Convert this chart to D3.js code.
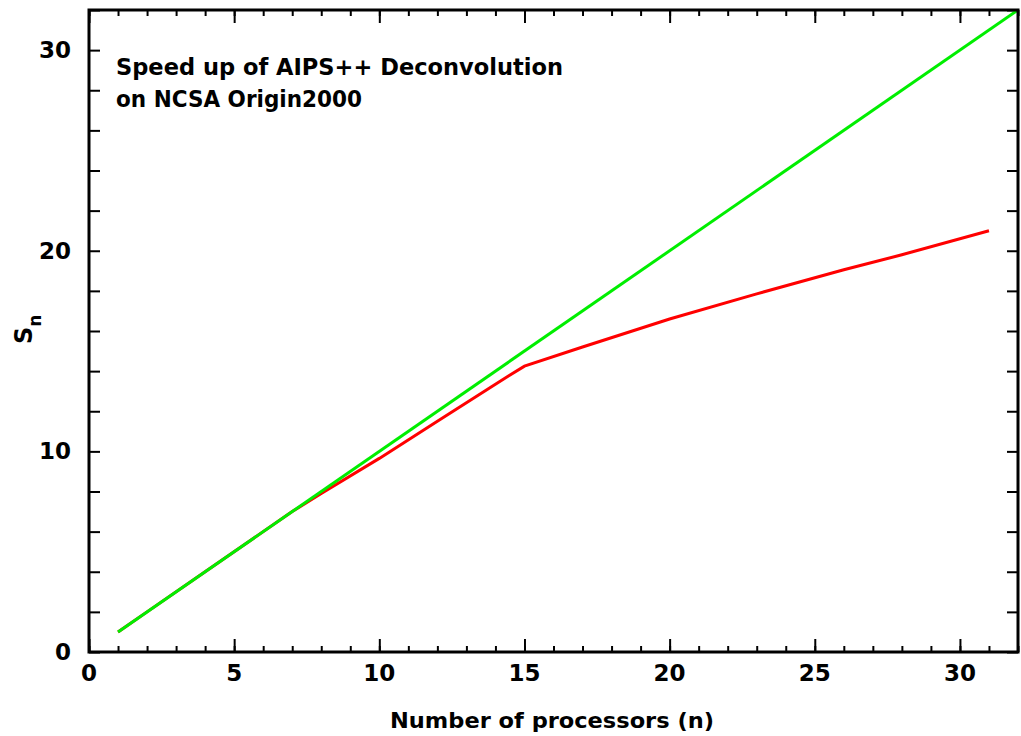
<!DOCTYPE html>
<html>
  <head>
    <meta charset="UTF-8" />
    <title>Speed up of AIPS++ Deconvolution</title>
    <script src="https://d3js.org/d3.v7.min.js"></script>
    <style>
      body {
        margin: 0;
        background: #fff;
      }
      svg text {
        font-family: "DejaVu Sans", sans-serif;
        font-weight: bold;
        fill: #000;
      }
    </style>
  </head>
  <body>
    <svg id="chart" width="1021" height="736"></svg>

    <script>
      // ideal speed-up (S_n = n)
      const idealN = [1, 32];
      const idealS = [1, 32];

      const measN = [1, 2, 4, 7, 8, 10, 12, 14, 15, 17, 20, 23, 26, 28, 31];
      const measS = [1, 2, 4, 7, 7.9, 9.65, 11.5, 13.35, 14.25, 15.2, 16.6, 17.85, 19.05, 19.8, 21.0];

      const xMajor = [0, 5, 10, 15, 20, 25, 30];
      const xMinor = d3.range(0, 33, 1);
      const yMajor = [0, 10, 20, 30];
      const yMinor = d3.range(0, 33, 2);

      const titleLines = ["Speed up of AIPS++ Deconvolution", "on NCSA Origin2000"];

      const svg = d3.select("#chart");
      const mLeft = 89, mRight = 1018, mTop = 10, mBottom = 652;

      const x = d3.scaleLinear().domain([0, 32]).range([mLeft, mRight]);
      const y = d3.scaleLinear().domain([0, 32]).range([mBottom, mTop]);

      // tick marks (all pointing inward), on all four sides
      function ticks(axisFn, scale, vals, size, transform) {
        const g = svg.append("g").attr("transform", transform)
          .call(axisFn(scale).tickValues(vals).tickSize(size).tickFormat(""));
        g.select(".domain").remove();
        g.selectAll(".tick line").attr("stroke", "#000").attr("stroke-width", 2);
        return g;
      }
      ticks(d3.axisBottom, x, xMinor, -6, `translate(0,${mBottom})`);
      ticks(d3.axisBottom, x, xMajor, -13, `translate(0,${mBottom})`);
      ticks(d3.axisTop, x, xMinor, -6, `translate(0,${mTop})`);
      ticks(d3.axisTop, x, xMajor, -13, `translate(0,${mTop})`);
      ticks(d3.axisLeft, y, yMinor, -11, `translate(${mLeft},0)`);
      ticks(d3.axisRight, y, yMinor, -11, `translate(${mRight},0)`);

      // tick labels
      svg.append("g").selectAll("text").data(xMajor).join("text")
        .attr("x", d => x(d)).attr("y", 681)
        .attr("text-anchor", "middle").attr("font-size", 23)
        .text(d => d);
      svg.append("g").selectAll("text").data(yMajor).join("text")
        .attr("x", 71).attr("y", d => y(d) + 8)
        .attr("text-anchor", "end").attr("font-size", 23)
        .text(d => d);

      // data lines
      const line = d3.line().x(d => x(d[0])).y(d => y(d[1]));
      svg.append("path")
        .datum(d3.zip(measN, measS))
        .attr("fill", "none").attr("stroke", "#ff0000").attr("stroke-width", 3)
        .attr("d", line);
      svg.append("path")
        .datum(d3.zip(idealN, idealS))
        .attr("fill", "none").attr("stroke", "#00ee00").attr("stroke-width", 3)
        .attr("d", line);

      // frame
      svg.append("rect")
        .attr("x", mLeft).attr("y", mTop)
        .attr("width", mRight - mLeft).attr("height", mBottom - mTop)
        .attr("fill", "none").attr("stroke", "#000").attr("stroke-width", 3);

      // title text inside plot
      svg.append("text").attr("x", 116).attr("y", 75).attr("font-size", 23)
        .attr("textLength", 447).attr("lengthAdjust", "spacingAndGlyphs")
        .text(titleLines[0]);
      svg.append("text").attr("x", 116).attr("y", 107).attr("font-size", 23)
        .attr("textLength", 246).attr("lengthAdjust", "spacingAndGlyphs")
        .text(titleLines[1]);

      // axis titles
      svg.append("text").attr("x", 552).attr("y", 728)
        .attr("text-anchor", "middle").attr("font-size", 21)
        .attr("textLength", 324).attr("lengthAdjust", "spacingAndGlyphs")
        .text("Number of processors (n)");

      const yl = svg.append("text")
        .attr("transform", "translate(32,344) rotate(-90)")
        .attr("font-size", 24);
      yl.append("tspan").text("S");
      yl.append("tspan").attr("dy", 9).attr("font-size", 17).text("n");
    </script>
  </body>
</html>
